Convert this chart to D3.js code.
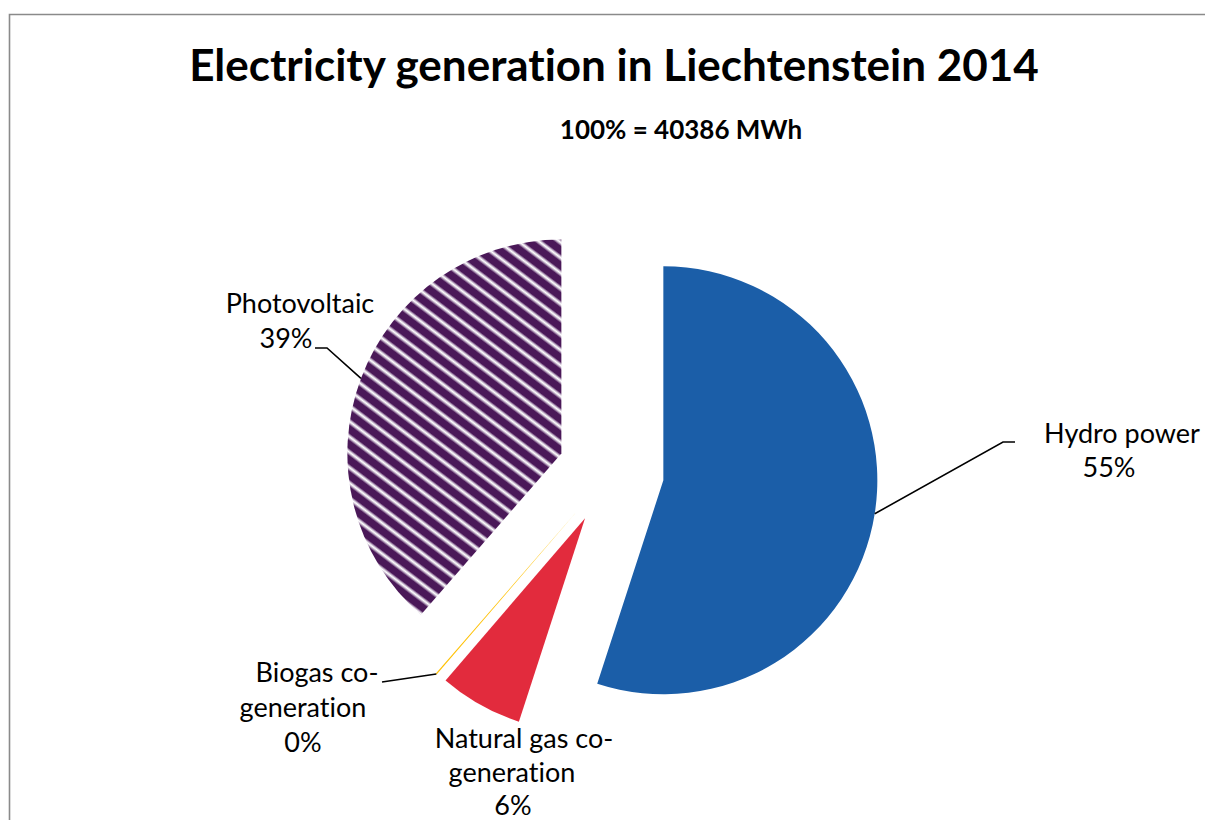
<!DOCTYPE html>
<html><head><meta charset="utf-8">
<script src="https://cdn.jsdelivr.net/npm/d3@7"></script>
<style>body{margin:0;background:#fff} svg{display:block} text{font-variant-ligatures:none;font-feature-settings:"liga" 0,"clig" 0}</style>
</head><body><svg id="chart" width="1205" height="820"></svg>
<script>
// ---- data ----
const categories = ["Hydro power", "Natural gas co-generation", "Biogas co-generation", "Photovoltaic"];
const shares = [55.0, 6.3, 0.1, 38.6];           // percent of 40386 MWh
const titleText = "Electricity generation in Liechtenstein 2014";
const subtitleText = "100% = 40386 MWh";

// ---- layout / styles (not data) ----
const W = 1205, H = 820;
const cx = 611, cy = 472, R = 214, explode = 53;
const colors = ["#1B5EA8", "#E22B3D", "#FFC000", "url(#pvStripes)"];
const FONT = "Lato, 'Open Sans', sans-serif";
const labelLayout = [
  {xs: [1122, 1109], y: 443, lh: 34, leader: [[1003, 442], [1015, 442]]},
  {xs: [524, 512, 513], y: 748, lh: 33.5, leader: null},
  {xs: [317, 303, 303], y: 682, lh: 35, leader: [[382, 682]]},
  {xs: [300, 286], y: 313, lh: 35, leader: [[327, 348], [315, 348]]}
];

const svg = d3.select("#chart");
const defs = svg.append("defs");
const grad = defs.append("linearGradient").attr("id", "pvStripes")
  .attr("gradientUnits", "userSpaceOnUse").attr("spreadMethod", "repeat")
  .attr("x1", 0).attr("y1", 0).attr("x2", 7.4).attr("y2", -9.8);
[["0%", "#4A1858"], ["42%", "#4A1858"], ["58%", "#C8B8CE"], ["68%", "#FFFFFF"], ["78%", "#C8B8CE"], ["92%", "#4A1858"], ["100%", "#4A1858"]]
  .forEach(([o, c]) => grad.append("stop").attr("offset", o).attr("stop-color", c));

svg.append("rect").attr("width", W).attr("height", H).attr("fill", "#fff");
// chart frame (left + top edges visible)
svg.append("path").attr("d", `M9.5,${H} L9.5,14.5 L${W},14.5`)
  .attr("fill", "none").attr("stroke", "#8a8a8a").attr("stroke-width", 1.6);

svg.append("text").attr("x", 614).attr("y", 81).attr("text-anchor", "middle")
  .attr("font-family", FONT).attr("font-weight", 700).attr("font-size", 44).attr("fill", "#000")
  .text(titleText);
svg.append("text").attr("x", 681).attr("y", 139).attr("text-anchor", "middle")
  .attr("font-family", FONT).attr("font-weight", 700).attr("font-size", 26).attr("fill", "#000")
  .text(subtitleText);

const pie = d3.pie().sort(null).startAngle(0).endAngle(2 * Math.PI);
const arcs = pie(shares);
const arcGen = d3.arc().innerRadius(0).outerRadius(R);
const offset = a => {
  const m = (a.startAngle + a.endAngle) / 2;
  return [Math.sin(m) * explode, -Math.cos(m) * explode];
};

const g = svg.append("g").attr("transform", `translate(${cx},${cy})`);
g.selectAll("path.slice").data(arcs).join("path").attr("class", "slice")
  .attr("transform", d => { const o = offset(d); return `translate(${o[0]},${o[1]})`; })
  .attr("d", arcGen)
  .attr("fill", (d, i) => colors[i]);

// labels and leader lines
const fmt = v => d3.format(".0f")(v) + "%";
arcs.forEach((a, i) => {
  const L = labelLayout[i];
  const lines = categories[i].replace("co-", "co-\n").split("\n").map(s => s.trim());
  lines.push(fmt(shares[i]));
  if (L.leader) {
    const m = (a.startAngle + a.endAngle) / 2;
    const o = offset(a);
    const start = [cx + o[0] + Math.sin(m) * R, cy + o[1] - Math.cos(m) * R];
    svg.append("path").attr("d", d3.line()([start, ...L.leader]))
      .attr("fill", "none").attr("stroke", "#000").attr("stroke-width", 1.6);
  }
  lines.forEach((t, k) => {
    svg.append("text").attr("x", L.xs[k]).attr("y", L.y + k * L.lh)
      .attr("text-anchor", "middle").attr("font-family", FONT)
      .attr("font-size", 27).attr("fill", "#000").text(t);
  });
});
</script></body></html>
